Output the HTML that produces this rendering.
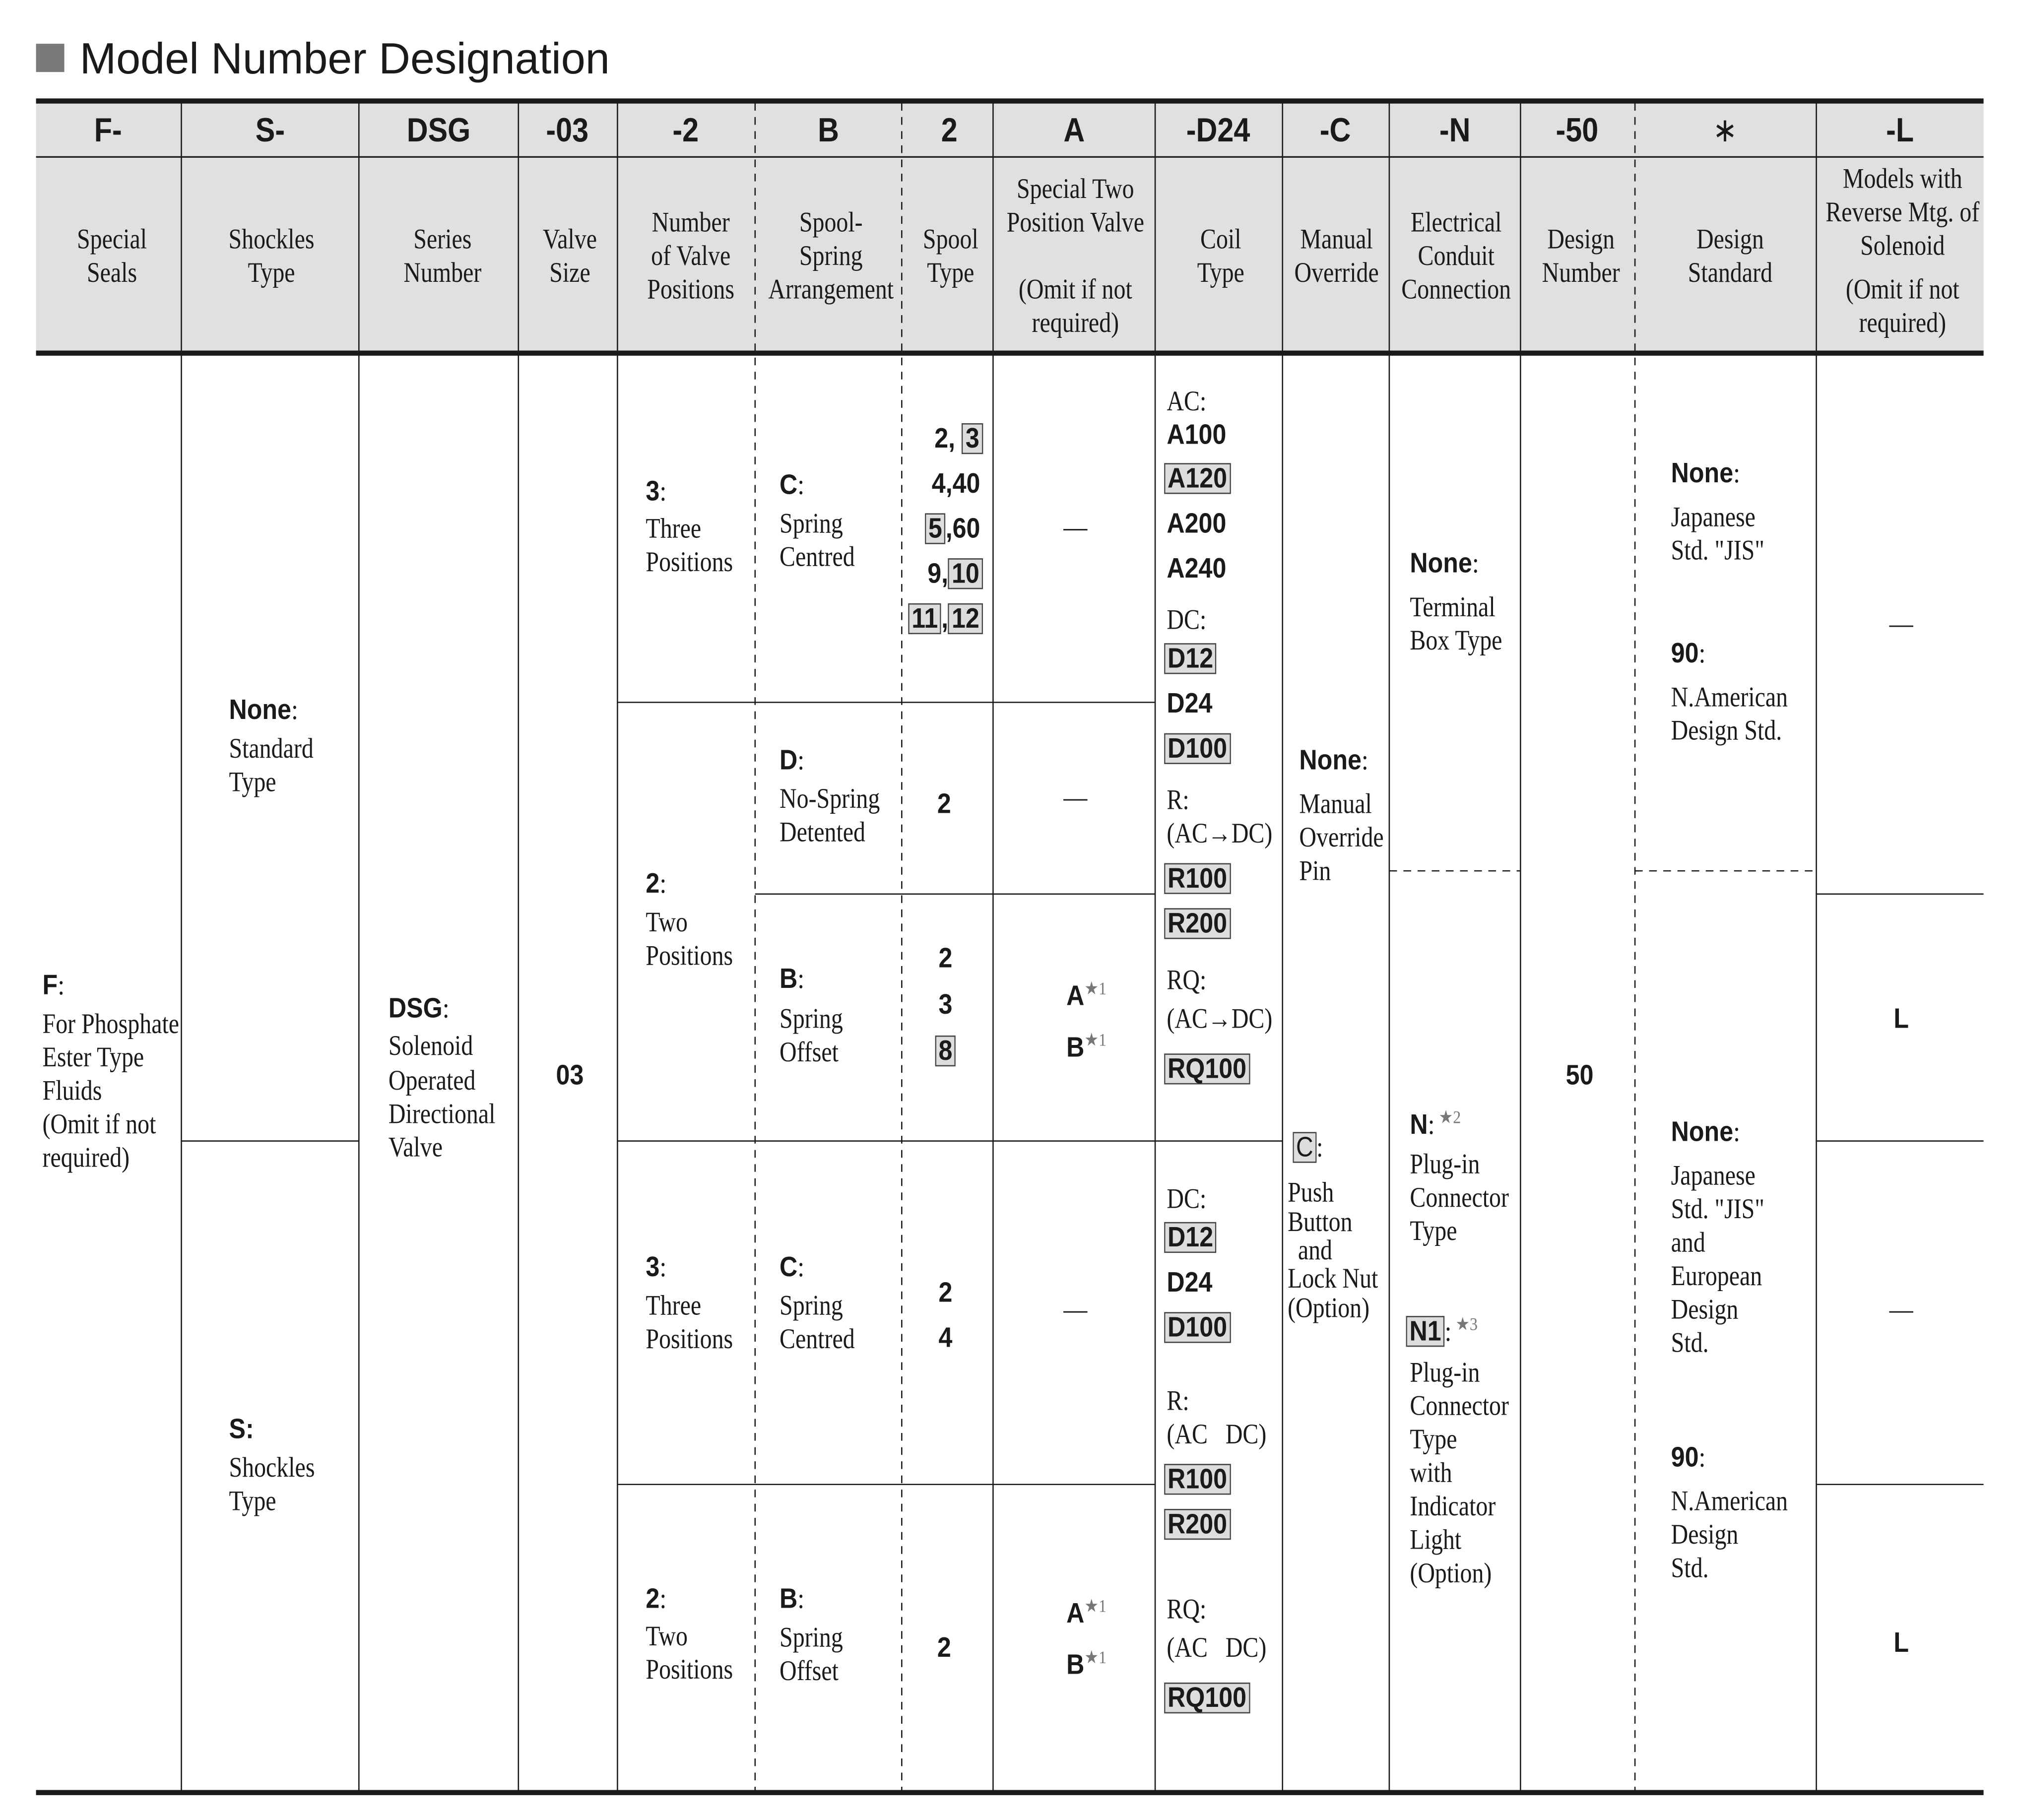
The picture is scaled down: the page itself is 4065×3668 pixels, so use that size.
<!DOCTYPE html>
<html><head><meta charset="utf-8"><style>
html,body{margin:0;padding:0;background:#fff;}
body{width:4065px;height:3668px;overflow:hidden;}
#c{position:absolute;left:0;top:0;width:1568px;height:1415px;transform:scale(2.5925);transform-origin:0 0;color:#1a1a1a;}
.t{position:absolute;white-space:nowrap;line-height:26px;height:26px;transform-origin:0 50%;}
.s{font-family:"Liberation Serif",serif;font-size:22px;transform:scaleX(.84);}
.b{font-family:"Liberation Sans",sans-serif;font-weight:bold;font-size:22px;transform:scaleX(.88);}
.s.c{transform:translateX(-50%) scaleX(.84);transform-origin:50% 50%;}
.b.c{transform:translateX(-50%) scaleX(.88);transform-origin:50% 50%;}
.b.r{transform:translateX(-100%) scaleX(.88);transform-origin:100% 50%;}
.h{font-size:26px;}
.x{background:#ddd;border:1px solid #444;padding:0 2px;line-height:22px;display:inline-block;}
.n{font-weight:normal;font-family:"Liberation Serif",serif;}
sup{font-family:"Liberation Serif",serif;font-weight:normal;font-size:14px;color:#777;}
</style></head><body><div id="c">
<svg width="1568" height="1415" style="position:absolute;left:0;top:0">
<rect x="28" y="34" width="22" height="22" fill="#7a7a7a"/>
<rect x="28" y="80" width="1514" height="194" fill="#e0e0e0"/>
<g stroke="#1a1a1a" fill="none">
<line x1="28" y1="78.5" x2="1542" y2="78.5" stroke-width="4"/>
<line x1="28" y1="274.5" x2="1542" y2="274.5" stroke-width="4"/>
<line x1="28" y1="1393.5" x2="1542" y2="1393.5" stroke-width="4"/>
<line x1="28" y1="122" x2="1542" y2="122" stroke-width="1.2"/>
<g stroke-width="1">
<line x1="141" y1="80" x2="141" y2="1392"/><line x1="279" y1="80" x2="279" y2="1392"/>
<line x1="403" y1="80" x2="403" y2="1392"/><line x1="480" y1="80" x2="480" y2="1392"/>
<line x1="772" y1="80" x2="772" y2="1392"/><line x1="898" y1="80" x2="898" y2="1392"/>
<line x1="997" y1="80" x2="997" y2="1392"/><line x1="1080" y1="80" x2="1080" y2="1392"/>
<line x1="1182" y1="80" x2="1182" y2="1392"/><line x1="1412" y1="80" x2="1412" y2="1392"/>
<line x1="141" y1="887" x2="279" y2="887"/>
<line x1="480" y1="546" x2="898" y2="546"/><line x1="480" y1="887" x2="997" y2="887"/>
<line x1="480" y1="1154" x2="898" y2="1154"/><line x1="587" y1="695" x2="898" y2="695"/>
<line x1="1412" y1="695" x2="1542" y2="695"/><line x1="1412" y1="887" x2="1542" y2="887"/><line x1="1412" y1="1154" x2="1542" y2="1154"/>
</g>
<g stroke-width="1" stroke-dasharray="6,5">
<line x1="587" y1="80" x2="587" y2="1392"/><line x1="701" y1="80" x2="701" y2="1392"/>
<line x1="1271" y1="80" x2="1271" y2="1392"/>
<line x1="1080" y1="677" x2="1182" y2="677"/><line x1="1271" y1="677" x2="1412" y2="677"/>
</g></g></svg>
<div class="t" style="left:62px;top:27px;font-family:'Liberation Sans',sans-serif;font-size:34px;line-height:38px;height:38px;">Model Number Designation</div>

<div class="t b c h" style="left:84px;top:88px">F-</div>
<div class="t b c h" style="left:210px;top:88px">S-</div>
<div class="t b c h" style="left:341px;top:88px">DSG</div>
<div class="t b c h" style="left:441px;top:88px">-03</div>
<div class="t b c h" style="left:533px;top:88px">-2</div>
<div class="t b c h" style="left:644px;top:88px">B</div>
<div class="t b c h" style="left:738px;top:88px">2</div>
<div class="t b c h" style="left:835px;top:88px">A</div>
<div class="t b c h" style="left:947px;top:88px">-D24</div>
<div class="t b c h" style="left:1038px;top:88px">-C</div>
<div class="t b c h" style="left:1131px;top:88px">-N</div>
<div class="t b c h" style="left:1226px;top:88px">-50</div>
<div class="t b c h" style="left:1341px;top:88px;font-weight:normal">∗</div>
<div class="t b c h" style="left:1477px;top:88px">-L</div>

<div class="t s c" style="left:87px;top:173px">Special</div><div class="t s c" style="left:87px;top:199px">Seals</div>
<div class="t s c" style="left:211px;top:173px">Shockles</div><div class="t s c" style="left:211px;top:199px">Type</div>
<div class="t s c" style="left:344px;top:173px">Series</div><div class="t s c" style="left:344px;top:199px">Number</div>
<div class="t s c" style="left:443px;top:173px">Valve</div><div class="t s c" style="left:443px;top:199px">Size</div>
<div class="t s c" style="left:537px;top:160px">Number</div><div class="t s c" style="left:537px;top:186px">of Valve</div><div class="t s c" style="left:537px;top:212px">Positions</div>
<div class="t s c" style="left:646px;top:160px">Spool-</div><div class="t s c" style="left:646px;top:186px">Spring</div><div class="t s c" style="left:646px;top:212px">Arrangement</div>
<div class="t s c" style="left:739px;top:173px">Spool</div><div class="t s c" style="left:739px;top:199px">Type</div>
<div class="t s c" style="left:836px;top:134px">Special Two</div><div class="t s c" style="left:836px;top:160px">Position Valve</div>
<div class="t s c" style="left:836px;top:212px">(Omit if not</div><div class="t s c" style="left:836px;top:238px">required)</div>
<div class="t s c" style="left:949px;top:173px">Coil</div><div class="t s c" style="left:949px;top:199px">Type</div>
<div class="t s c" style="left:1039px;top:173px">Manual</div><div class="t s c" style="left:1039px;top:199px">Override</div>
<div class="t s c" style="left:1132px;top:160px">Electrical</div><div class="t s c" style="left:1132px;top:186px">Conduit</div><div class="t s c" style="left:1132px;top:212px">Connection</div>
<div class="t s c" style="left:1229px;top:173px">Design</div><div class="t s c" style="left:1229px;top:199px">Number</div>
<div class="t s c" style="left:1345px;top:173px">Design</div><div class="t s c" style="left:1345px;top:199px">Standard</div>
<div class="t s c" style="left:1479px;top:126px">Models with</div><div class="t s c" style="left:1479px;top:152px">Reverse Mtg. of</div><div class="t s c" style="left:1479px;top:178px">Solenoid</div>
<div class="t s c" style="left:1479px;top:212px">(Omit if not</div><div class="t s c" style="left:1479px;top:238px">required)</div>

<div class="t b" style="left:33px;top:753px">F<span class="n">:</span></div>
<div class="t s" style="left:33px;top:783px">For Phosphate</div><div class="t s" style="left:33px;top:809px">Ester Type</div><div class="t s" style="left:33px;top:835px">Fluids</div><div class="t s" style="left:33px;top:861px">(Omit if not</div><div class="t s" style="left:33px;top:887px">required)</div>

<div class="t b" style="left:178px;top:539px">None<span class="n">:</span></div>
<div class="t s" style="left:178px;top:569px">Standard</div><div class="t s" style="left:178px;top:595px">Type</div>
<div class="t b" style="left:178px;top:1098px">S:</div>
<div class="t s" style="left:178px;top:1128px">Shockles</div><div class="t s" style="left:178px;top:1154px">Type</div>

<div class="t b" style="left:302px;top:771px">DSG<span class="n">:</span></div>
<div class="t s" style="left:302px;top:800px">Solenoid</div><div class="t s" style="left:302px;top:827px">Operated</div><div class="t s" style="left:302px;top:853px">Directional</div><div class="t s" style="left:302px;top:879px">Valve</div>
<div class="t b c" style="left:443px;top:823px">03</div>

<div class="t b" style="left:502px;top:369px">3<span class="n">:</span></div><div class="t s" style="left:502px;top:398px">Three</div><div class="t s" style="left:502px;top:424px">Positions</div>
<div class="t b" style="left:502px;top:674px">2<span class="n">:</span></div><div class="t s" style="left:502px;top:704px">Two</div><div class="t s" style="left:502px;top:730px">Positions</div>
<div class="t b" style="left:502px;top:972px">3<span class="n">:</span></div><div class="t s" style="left:502px;top:1002px">Three</div><div class="t s" style="left:502px;top:1028px">Positions</div>
<div class="t b" style="left:502px;top:1230px">2<span class="n">:</span></div><div class="t s" style="left:502px;top:1259px">Two</div><div class="t s" style="left:502px;top:1285px">Positions</div>

<div class="t b" style="left:606px;top:364px">C<span class="n">:</span></div><div class="t s" style="left:606px;top:394px">Spring</div><div class="t s" style="left:606px;top:420px">Centred</div>
<div class="t b" style="left:606px;top:578px">D<span class="n">:</span></div><div class="t s" style="left:606px;top:608px">No-Spring</div><div class="t s" style="left:606px;top:634px">Detented</div>
<div class="t b" style="left:606px;top:748px">B<span class="n">:</span></div><div class="t s" style="left:606px;top:779px">Spring</div><div class="t s" style="left:606px;top:805px">Offset</div>
<div class="t b" style="left:606px;top:972px">C<span class="n">:</span></div><div class="t s" style="left:606px;top:1002px">Spring</div><div class="t s" style="left:606px;top:1028px">Centred</div>
<div class="t b" style="left:606px;top:1230px">B<span class="n">:</span></div><div class="t s" style="left:606px;top:1260px">Spring</div><div class="t s" style="left:606px;top:1286px">Offset</div>

<div class="t b r" style="left:764px;top:328px">2, <span class="x">3</span></div>
<div class="t b r" style="left:762px;top:363px">4,40</div>
<div class="t b r" style="left:762px;top:398px"><span class="x">5</span>,60</div>
<div class="t b r" style="left:764px;top:433px">9,<span class="x">10</span></div>
<div class="t b r" style="left:764px;top:468px"><span class="x">11</span>,<span class="x">12</span></div>
<div class="t b c" style="left:734px;top:612px">2</div>
<div class="t b c" style="left:735px;top:732px">2</div><div class="t b c" style="left:735px;top:768px">3</div><div class="t b c" style="left:735px;top:804px"><span class="x">8</span></div>
<div class="t b c" style="left:735px;top:992px">2</div><div class="t b c" style="left:735px;top:1027px">4</div>
<div class="t b c" style="left:734px;top:1268px">2</div>

<div class="t s c" style="left:836px;top:397px">—</div>
<div class="t s c" style="left:836px;top:607px">—</div>
<div class="t s c" style="left:836px;top:1005px">—</div>
<div class="t b" style="left:829px;top:757px">A<sup>★1</sup></div><div class="t b" style="left:829px;top:797px">B<sup>★1</sup></div>
<div class="t b" style="left:829px;top:1237px">A<sup>★1</sup></div><div class="t b" style="left:829px;top:1277px">B<sup>★1</sup></div>

<div class="t s" style="left:907px;top:299px">AC:</div>
<div class="t b" style="left:907px;top:325px">A100</div>
<div class="t b" style="left:905px;top:359px"><span class="x">A120</span></div>
<div class="t b" style="left:907px;top:394px">A200</div>
<div class="t b" style="left:907px;top:429px">A240</div>
<div class="t s" style="left:907px;top:469px">DC:</div>
<div class="t b" style="left:905px;top:499px"><span class="x">D12</span></div>
<div class="t b" style="left:907px;top:534px">D24</div>
<div class="t b" style="left:905px;top:569px"><span class="x">D100</span></div>
<div class="t s" style="left:907px;top:609px">R:</div>
<div class="t s" style="left:907px;top:635px">(AC→DC)</div>
<div class="t b" style="left:905px;top:670px"><span class="x">R100</span></div>
<div class="t b" style="left:905px;top:705px"><span class="x">R200</span></div>
<div class="t s" style="left:907px;top:749px">RQ:</div>
<div class="t s" style="left:907px;top:779px">(AC→DC)</div>
<div class="t b" style="left:905px;top:818px"><span class="x">RQ100</span></div>
<div class="t s" style="left:907px;top:919px">DC:</div>
<div class="t b" style="left:905px;top:949px"><span class="x">D12</span></div>
<div class="t b" style="left:907px;top:984px">D24</div>
<div class="t b" style="left:905px;top:1019px"><span class="x">D100</span></div>
<div class="t s" style="left:907px;top:1076px">R:</div>
<div class="t s" style="left:907px;top:1102px">(AC&nbsp;&nbsp;&nbsp;DC)</div>
<div class="t b" style="left:905px;top:1137px"><span class="x">R100</span></div>
<div class="t b" style="left:905px;top:1172px"><span class="x">R200</span></div>
<div class="t s" style="left:907px;top:1238px">RQ:</div>
<div class="t s" style="left:907px;top:1268px">(AC&nbsp;&nbsp;&nbsp;DC)</div>
<div class="t b" style="left:905px;top:1307px"><span class="x">RQ100</span></div>

<div class="t b" style="left:1010px;top:578px">None<span class="n">:</span></div>
<div class="t s" style="left:1010px;top:612px">Manual</div><div class="t s" style="left:1010px;top:638px">Override</div><div class="t s" style="left:1010px;top:664px">Pin</div>
<div class="t s" style="left:1005px;top:879px"><span class="x" style="font-family:'Liberation Sans',sans-serif">C</span>:</div>
<div class="t s" style="left:1001px;top:914px">Push</div><div class="t s" style="left:1001px;top:937px">Button</div><div class="t s" style="left:1009px;top:959px">and</div><div class="t s" style="left:1001px;top:981px">Lock Nut</div><div class="t s" style="left:1001px;top:1004px">(Option)</div>

<div class="t b" style="left:1096px;top:425px">None<span class="n">:</span></div>
<div class="t s" style="left:1096px;top:459px">Terminal</div><div class="t s" style="left:1096px;top:485px">Box Type</div>
<div class="t b" style="left:1096px;top:857px">N<span class="n">:</span><sup> ★2</sup></div>
<div class="t s" style="left:1096px;top:892px">Plug-in</div><div class="t s" style="left:1096px;top:918px">Connector</div><div class="t s" style="left:1096px;top:944px">Type</div>
<div class="t b" style="left:1093px;top:1018px"><span class="x">N1</span><span class="n">:</span><sup>  ★3</sup></div>
<div class="t s" style="left:1096px;top:1054px">Plug-in</div><div class="t s" style="left:1096px;top:1080px">Connector</div><div class="t s" style="left:1096px;top:1106px">Type</div><div class="t s" style="left:1096px;top:1132px">with</div><div class="t s" style="left:1096px;top:1158px">Indicator</div><div class="t s" style="left:1096px;top:1184px">Light</div><div class="t s" style="left:1096px;top:1210px">(Option)</div>

<div class="t b c" style="left:1228px;top:823px">50</div>

<div class="t b" style="left:1299px;top:355px">None<span class="n">:</span></div>
<div class="t s" style="left:1299px;top:389px">Japanese</div><div class="t s" style="left:1299px;top:415px">Std. "JIS"</div>
<div class="t b" style="left:1299px;top:495px">90<span class="n">:</span></div>
<div class="t s" style="left:1299px;top:529px">N.American</div><div class="t s" style="left:1299px;top:555px">Design Std.</div>
<div class="t b" style="left:1299px;top:867px">None<span class="n">:</span></div>
<div class="t s" style="left:1299px;top:901px">Japanese</div><div class="t s" style="left:1299px;top:927px">Std. "JIS"</div><div class="t s" style="left:1299px;top:953px">and</div><div class="t s" style="left:1299px;top:979px">European</div><div class="t s" style="left:1299px;top:1005px">Design</div><div class="t s" style="left:1299px;top:1031px">Std.</div>
<div class="t b" style="left:1299px;top:1120px">90<span class="n">:</span></div>
<div class="t s" style="left:1299px;top:1154px">N.American</div><div class="t s" style="left:1299px;top:1180px">Design</div><div class="t s" style="left:1299px;top:1206px">Std.</div>

<div class="t s c" style="left:1478px;top:472px">—</div>
<div class="t s c" style="left:1478px;top:1005px">—</div>
<div class="t b c" style="left:1478px;top:779px">L</div>
<div class="t b c" style="left:1478px;top:1264px">L</div>
</div></body></html>
